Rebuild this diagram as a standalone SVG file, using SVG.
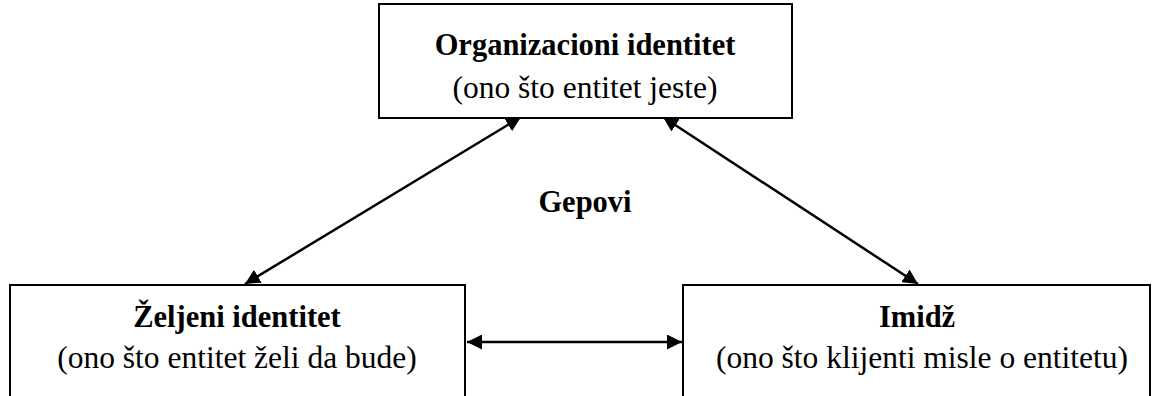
<svg xmlns="http://www.w3.org/2000/svg" width="1156" height="396" viewBox="0 0 1156 396">
  <style>
    .box { fill: #ffffff; stroke: #000000; stroke-width: 2; }
    .txt { font-family: 'Liberation Serif', 'Times New Roman', Times, serif; text-anchor: middle; fill: #000; }
    .title { font-size: 30.5px; font-weight: bold; }
    .sub { font-size: 31.5px; }
    .conn { stroke: #000000; stroke-width: 2.5; fill: none; marker-start: url(#head); marker-end: url(#head); }
  </style>
  <defs>
    <marker id="head" viewBox="0 0 10 10" refX="10" refY="5" markerWidth="6" markerHeight="6" markerUnits="strokeWidth" orient="auto-start-reverse">
      <path d="M0,0 L10,5 L0,10 Z" fill="#000"/>
    </marker>
  </defs>
  <rect width="1156" height="396" fill="#ffffff"/>

  <g id="connectors">
    <line class="conn" x1="521" y1="117" x2="245" y2="284"/>
    <line class="conn" x1="663" y1="117" x2="918" y2="284"/>
    <line class="conn" x1="467" y1="342" x2="682" y2="342"/>
  </g>

  <g id="organizacioni-identitet">
    <rect class="box" x="379" y="4" width="413" height="114"/>
    <text class="txt title" x="585" y="55">Organizacioni identitet</text>
    <text class="txt sub" x="585" y="98">(ono što entitet jeste)</text>
  </g>

  <g id="gepovi">
    <text class="txt title" x="585" y="212">Gepovi</text>
  </g>

  <g id="zeljeni-identitet">
    <rect class="box" x="10" y="285" width="455" height="120"/>
    <text class="txt title" x="237" y="327">Željeni identitet</text>
    <text class="txt sub" x="237" y="368">(ono što entitet želi da bude)</text>
  </g>

  <g id="imidz">
    <rect class="box" x="683" y="285" width="467" height="120"/>
    <text class="txt title" x="917" y="327">Imidž</text>
    <text class="txt sub" x="922" y="368">(ono što klijenti misle o entitetu)</text>
  </g>
</svg>
